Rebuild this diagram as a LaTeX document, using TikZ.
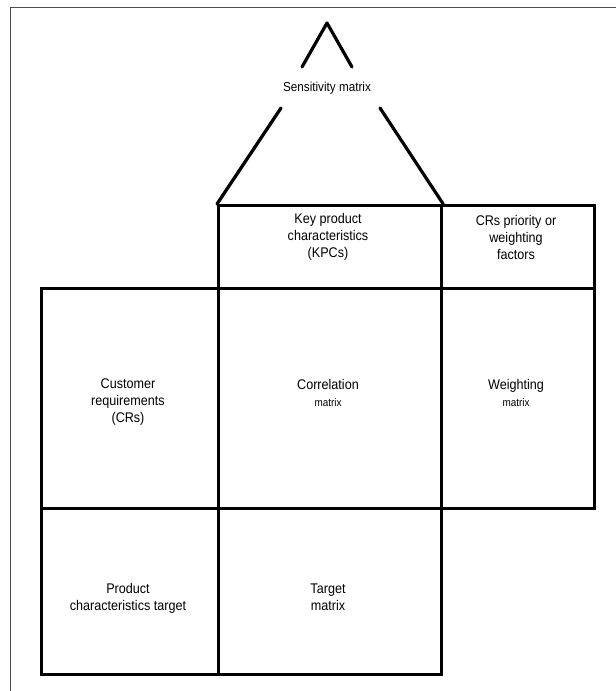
\documentclass[tikz,border=0pt]{standalone}
\usepackage{fontspec}
\setmainfont{Liberation Sans}[FakeStretch=0.9]
\begin{document}
\begin{tikzpicture}[x=1pt,y=-1pt,
  cell/.style={draw=black,line width=3.2pt,inner sep=0pt,anchor=north west},
  txt/.style={align=center,font=\fontsize{14}{17}\selectfont,inner sep=0pt},
  thickln/.style={line width=3.2pt,line cap=round,line join=round},
  frame/.style={draw=black!70,line width=1.1pt}]
\useasboundingbox (0,0) rectangle (616,691);
% outer frame (partly cropped)
\coordinate (ftr) at (616,7.5);
\coordinate (ftl) at (10.5,7.5);
\coordinate (fbl) at (10.5,691);
\draw[frame] (ftr) -- (ftl) -- (fbl);
% cells
\node[cell,minimum width=223pt,minimum height=83pt] (kpc) at (217,204) {};
\node[cell,minimum width=153pt,minimum height=83pt] (crp) at (440,204) {};
\node[cell,minimum width=177pt,minimum height=220pt] (cr) at (40,287) {};
\node[cell,minimum width=223pt,minimum height=220pt] (corr) at (217,287) {};
\node[cell,minimum width=153pt,minimum height=220pt] (wm) at (440,287) {};
\node[cell,minimum width=177pt,minimum height=166pt] (pct) at (40,507) {};
\node[cell,minimum width=223pt,minimum height=166pt] (tm) at (217,507) {};
% sensitivity roof
\coordinate (la) at (281,108);
\coordinate (ra) at (380,108);
\coordinate (pl) at (302,67);
\coordinate (apex) at (327,23);
\coordinate (pr) at (352,67);
\draw[thickln] (kpc.north west) -- (la);
\draw[thickln] (kpc.north east) -- (ra);
\draw[thickln] (pl) -- (apex) -- (pr);
\node[txt,font=\fontsize{13}{15}\selectfont] (sens) at (327,88) {Sensitivity matrix};
% labels
\node[txt] (t1) at (328,237) {Key product\\characteristics\\(KPCs)};
\node[txt] (t2) at (516,237) {CRs priority or\\weighting\\factors};
\node[txt] (t3) at (128,402) {Customer\\requirements\\(CRs)};
\node[txt] (t4) at (328,393) {Correlation\\{\fontsize{11}{13}\selectfont matrix}};
\node[txt] (t5) at (516,393) {Weighting\\{\fontsize{11}{13}\selectfont matrix}};
\node[txt] (t6) at (128,598) {Product\\characteristics target};
\node[txt] (t7) at (328,597) {Target\\matrix};
\end{tikzpicture}
\end{document}
